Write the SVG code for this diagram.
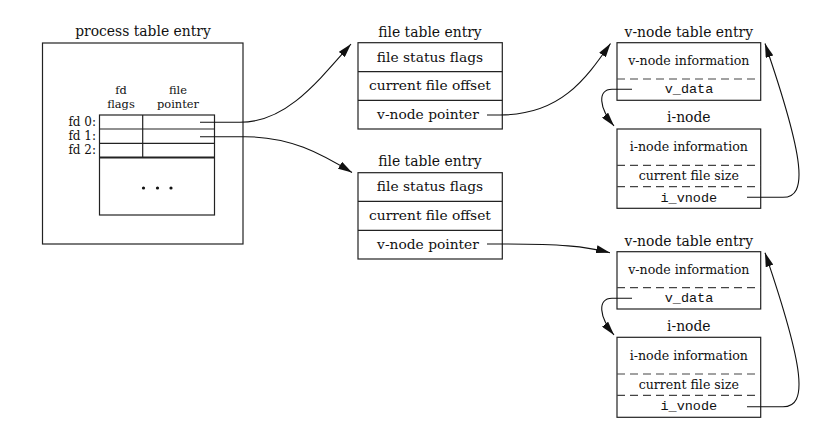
<svg xmlns="http://www.w3.org/2000/svg" width="820" height="441" viewBox="0 0 820 441">
  <style>
    .box { fill: none; stroke: #222; stroke-width: 1.2; }
    .rule { stroke: #222; stroke-width: 1.2; }
    .dash { stroke: #444; stroke-width: 1.2; stroke-dasharray: 8 5; }
    .thick { stroke: #222; stroke-width: 2; }
    .title { font-family: "DejaVu Serif", "Liberation Serif", serif; font-size: 13.9px; fill: #111; text-anchor: middle; }
    .cell { font-family: "DejaVu Serif", "Liberation Serif", serif; font-size: 13.8px; fill: #111; text-anchor: middle; }
    .small { font-family: "DejaVu Serif", "Liberation Serif", serif; font-size: 12.6px; fill: #111; text-anchor: middle; }
    .lbl { font-family: "DejaVu Serif", "Liberation Serif", serif; font-size: 12px; fill: #111; }
    .head { font-family: "DejaVu Serif", "Liberation Serif", serif; font-size: 11.4px; fill: #111; text-anchor: middle; }
    .mono { font-family: "Liberation Mono", "DejaVu Sans Mono", monospace; font-size: 13.5px; fill: #111; text-anchor: middle; }
    .link { fill: none; stroke: #111; stroke-width: 1.1; marker-end: url(#head); }
  </style>
  <defs>
    <marker id="head" viewBox="0 0 14 8" refX="14" refY="4" markerWidth="14" markerHeight="8" markerUnits="userSpaceOnUse" orient="auto">
      <path d="M0,0 L14,4 L0,8 z" fill="#111"/>
    </marker>
  </defs>

  <!-- process table entry with its fd table -->
  <g id="process-table">
    <text class="title" x="143" y="36">process table entry</text>
    <rect class="box" x="42.5" y="43" width="200.5" height="201"/>
    <text class="head" x="121" y="93.5">fd</text>
    <text class="head" x="121" y="107.5">flags</text>
    <text class="head" x="178" y="93.5">file</text>
    <text class="head" x="178" y="107.5">pointer</text>
    <rect class="box" x="99.5" y="115" width="115" height="100"/>
    <line class="rule" x1="99.5" y1="129" x2="214.5" y2="129"/>
    <line class="rule" x1="99.5" y1="143.3" x2="214.5" y2="143.3"/>
    <line class="thick" x1="99.5" y1="157.5" x2="214.5" y2="157.5"/>
    <line class="rule" x1="142.7" y1="115" x2="142.7" y2="157.5"/>
    <text class="lbl" x="96" y="125.5" text-anchor="end">fd 0:</text>
    <text class="lbl" x="96" y="139.5" text-anchor="end">fd 1:</text>
    <text class="lbl" x="96" y="153.5" text-anchor="end">fd 2:</text>
    <circle cx="143.5" cy="188" r="1.6" fill="#111"/>
    <circle cx="157.5" cy="188" r="1.6" fill="#111"/>
    <circle cx="171" cy="188" r="1.6" fill="#111"/>
  </g>

  <!-- file table entry (fd 0) -->
  <g id="file-table-1">
    <text class="title" x="430" y="36.7">file table entry</text>
    <rect class="box" x="358" y="42.7" width="144.3" height="86.3"/>
    <line class="rule" x1="358" y1="71.7" x2="502.3" y2="71.7"/>
    <line class="rule" x1="358" y1="100.3" x2="502.3" y2="100.3"/>
    <text class="cell" x="430" y="61.5">file status flags</text>
    <text class="cell" x="430" y="90.2">current file offset</text>
    <text class="cell" x="428" y="119">v-node pointer</text>
  </g>

  <!-- file table entry (fd 1) -->
  <g id="file-table-2">
    <text class="title" x="430" y="165.7">file table entry</text>
    <rect class="box" x="358" y="172.7" width="144.3" height="86.3"/>
    <line class="rule" x1="358" y1="201.3" x2="502.3" y2="201.3"/>
    <line class="rule" x1="358" y1="230.3" x2="502.3" y2="230.3"/>
    <text class="cell" x="430" y="191.2">file status flags</text>
    <text class="cell" x="430" y="220.2">current file offset</text>
    <text class="cell" x="428" y="248.7">v-node pointer</text>
  </g>

  <!-- v-node table entry (first file) -->
  <g id="vnode-1">
    <text class="title" x="688.8" y="36.7">v-node table entry</text>
    <rect class="box" x="617" y="42.7" width="143.7" height="57.6"/>
    <line class="dash" x1="617" y1="79" x2="760.7" y2="79"/>
    <text class="small" x="688.8" y="64.8">v-node information</text>
    <text class="mono" x="689" y="93">v_data</text>
  </g>

  <!-- i-node (first file) -->
  <g id="inode-1">
    <text class="title" x="688.8" y="122">i-node</text>
    <rect class="box" x="617" y="129" width="143.7" height="79.3"/>
    <line class="dash" x1="617" y1="165.3" x2="760.7" y2="165.3"/>
    <line class="dash" x1="617" y1="186.7" x2="760.7" y2="186.7"/>
    <text class="small" x="688.8" y="150.8">i-node information</text>
    <text class="small" x="688.8" y="180">current file size</text>
    <text class="mono" x="688.8" y="201.5">i_vnode</text>
  </g>

  <!-- v-node table entry (second file) -->
  <g id="vnode-2">
    <text class="title" x="688.8" y="246">v-node table entry</text>
    <rect class="box" x="617" y="251.7" width="143.7" height="57.3"/>
    <line class="dash" x1="617" y1="287.7" x2="760.7" y2="287.7"/>
    <text class="small" x="688.8" y="273.8">v-node information</text>
    <text class="mono" x="689" y="302">v_data</text>
  </g>

  <!-- i-node (second file) -->
  <g id="inode-2">
    <text class="title" x="688.8" y="331">i-node</text>
    <rect class="box" x="617" y="337.3" width="143.7" height="80"/>
    <line class="dash" x1="617" y1="374" x2="760.7" y2="374"/>
    <line class="dash" x1="617" y1="395.3" x2="760.7" y2="395.3"/>
    <text class="small" x="688.8" y="359.8">i-node information</text>
    <text class="small" x="688.8" y="388.8">current file size</text>
    <text class="mono" x="688.8" y="410">i_vnode</text>
  </g>

  <!-- pointers between the tables -->
  <g id="connectors">
    <path class="link" d="M200,122.3 L240,122.3 C285,122.3 315,85 351,44"/>
    <path class="link" d="M200,136.7 L245,136.7 C290,136.7 320,153 352,172.5"/>
    <path class="link" d="M487,115 L500,115 C560,115 585,80 610.5,43.5"/>
    <path class="link" d="M487,244 L500,244 C560,244 585,246 610,252.7"/>
    <path class="link" d="M632,89.3 L612,89.3 C597,89.3 599,108 614,126"/>
    <path class="link" d="M632,298.3 L612,298.3 C597,298.3 599,317 614,335"/>
    <path class="link" d="M747,197.3 L783,197.3 C808,197.3 805,160 765,43.5"/>
    <path class="link" d="M747,406.7 L783,406.7 C808,406.7 805,370 765,252.7"/>
  </g>
</svg>
